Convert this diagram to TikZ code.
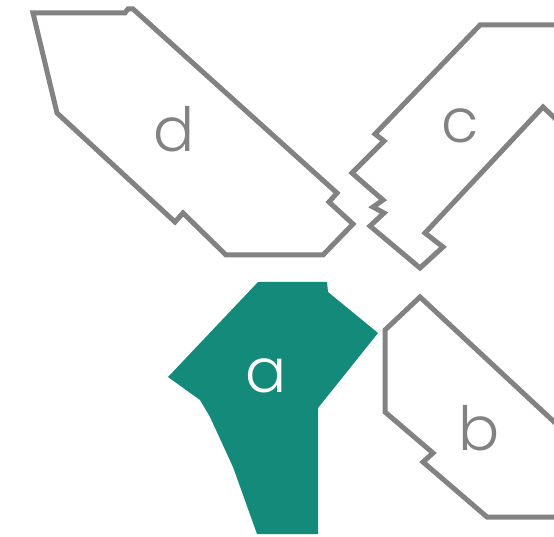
\documentclass[tikz,border=0pt]{standalone}
\usepackage{fontspec}
\newfontfamily\labelfont{Poppins Light}
\definecolor{outlinegray}{RGB}{130,130,130}
\definecolor{tealfill}{RGB}{20,138,122}
\begin{document}
\begin{tikzpicture}[x=1pt,y=-1pt,
  piece/.style={draw=outlinegray,line width=5pt,line join=miter,fill=white},
  lbl/.style={font=\labelfont\fontsize{61}{61}\selectfont,anchor=base,inner sep=0pt},
  graylbl/.style={lbl,text=outlinegray},
  whitelbl/.style={lbl,text=white}]
\useasboundingbox (0,0) rectangle (554,537);
\clip (0,0) rectangle (554,537);
% piece d
\draw[piece] (33,13) -- (125,13) -- (128,9) -- (133,9) -- (337,193) -- (329,202)
  -- (353,224) -- (323,255) -- (226,255) -- (183,213) -- (175,222) -- (57,113) -- cycle;
% piece c
\draw[piece] (580,25) -- (480,25) -- (375,134) -- (384,141) -- (378,147) -- (352,173)
  -- (383,200) -- (373,207) -- (384,213) -- (370,226) -- (420,268) -- (443,247)
  -- (425,233) -- (543,107) -- (580,142);
% piece b
\draw[piece] (580,517) -- (487,517) -- (423,462) -- (433,453) -- (385,412)
  -- (385,330) -- (420,297) -- (580,446);
% piece a
\fill[tealfill] (258,282) -- (327,282) -- (328,292) -- (378,333) -- (318,408)
  -- (318,534) -- (257,534) -- (233,467) -- (210,417) -- (200,400) -- (168,377) -- cycle;
% labels
\node[graylbl] (labd) at (174,152) {d};
\node[graylbl] (labc) at (460,143) {c};
\node[whitelbl] (laba) at (266,392) {a};
\node[graylbl] (labb) at (479,450) {b};
\end{tikzpicture}
\end{document}
